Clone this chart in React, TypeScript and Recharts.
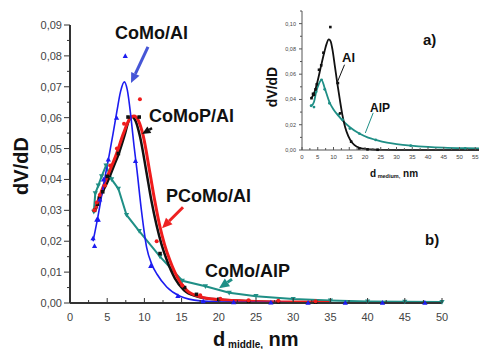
import { ComposedChart, Line, Scatter, XAxis, YAxis, ReferenceLine } from "recharts";

type Pair = [number, number];

// main chart (b): measured points
const comoAlPoints: Pair[] = [
  [3.1, 0.021], [3.3, 0.0185], [3.6, 0.027], [3.8, 0.027], [4.0, 0.0335], [4.5, 0.04],
  [5.15, 0.0465], [6.26, 0.06], [7.43, 0.08], [8.8, 0.046], [10.85, 0.012], [14.5, 0.0023],
  [17.9, 0.0006], [22, 0.0003], [27, 0.0002], [32, 0.0001], [37, 0.0001], [42, 0.0001], [47.7, 0.0001],
];
const pcomoAlPoints: Pair[] = [
  [3.27, 0.03], [3.6, 0.0325], [4.0, 0.035], [4.7, 0.038], [5.4, 0.0445], [6.3, 0.05], [7.26, 0.058],
  [9.4, 0.066], [11.65, 0.02], [15.1, 0.0057], [17.5, 0.0025], [20.2, 0.0014], [24, 0.0009], [28, 0.0007], [33, 0.0006],
];
const comopAlPoints: Pair[] = [
  [3.3, 0.03], [3.7, 0.032], [3.95, 0.034], [4.4, 0.036], [5.0, 0.041], [6.5, 0.0484], [7.8, 0.0602],
  [9.3, 0.0602], [12.1, 0.016], [15.4, 0.005], [17, 0.0028], [20, 0.0012], [24, 0.0006], [28, 0.0004], [33, 0.0003],
];
const comoAlpPoints: Pair[] = [
  [3.2, 0.0295], [3.4, 0.0355], [3.8, 0.038], [4.25, 0.041], [4.84, 0.0445], [5.6, 0.04], [6.5, 0.037],
  [7.6, 0.0285], [9.3, 0.0233], [12.1, 0.015], [15.1, 0.0072], [18.2, 0.0054], [21.4, 0.0033],
  [25, 0.0022], [30, 0.0013], [35, 0.0008], [40, 0.0005], [45, 0.0004], [50, 0.0003],
];

// main chart (b): fitted curves
const comoAlFit: Pair[] = [
  [3.1, 0.02], [3.6, 0.026], [4.2, 0.034], [4.8, 0.042], [5.2, 0.047], [5.8, 0.055], [6.3, 0.062],
  [6.8, 0.0685], [7.3, 0.0716], [7.7, 0.069], [8.2, 0.06], [8.6, 0.051], [9.0, 0.043], [9.6, 0.03],
  [10.3, 0.018], [11.0, 0.0125], [11.7, 0.0093], [13, 0.0052], [14.8, 0.0022], [17.5, 0.0007],
  [22, 0.0002], [30, 0.0001], [50, 0],
];
const pcomoAlFit: Pair[] = [
  [3.3, 0.0295], [4.2, 0.036], [5.2, 0.042], [6.2, 0.048], [7.2, 0.055], [8.0, 0.0595], [8.6, 0.0605],
  [9.2, 0.059], [9.85, 0.054], [10.75, 0.042], [11.4, 0.033], [12.1, 0.0246], [12.7, 0.019], [13.4, 0.014],
  [14.5, 0.008], [15.7, 0.0041], [17.5, 0.002], [20, 0.0011], [25, 0.0005], [30, 0.0003], [35, 0.0002],
];
const comopAlFit: Pair[] = [
  [3.5, 0.0305], [4.0, 0.034], [5.0, 0.039], [6.0, 0.045], [6.5, 0.048], [7.3, 0.054], [7.9, 0.059],
  [8.3, 0.0603], [8.8, 0.059], [9.4, 0.054], [10.3, 0.042], [10.95, 0.033], [11.65, 0.025], [12.3, 0.019],
  [13, 0.014], [14.1, 0.008], [15.3, 0.0042], [17, 0.0022], [20, 0.0011], [25, 0.0005], [30, 0.0002], [35, 0.0001],
];

// inset (a)
const alPoints: Pair[] = [
  [3.0, 0.041], [3.5, 0.0445], [3.8, 0.0437], [4.3, 0.048], [4.7, 0.052], [5.4, 0.0635], [6.1, 0.067],
  [6.8, 0.077], [9.0, 0.0973], [11.4, 0.053], [12.1, 0.029], [15.6, 0.0066], [18.2, 0.0013], [20.8, 0.0005], [24, 0.0002],
];
const alFit: Pair[] = [
  [3, 0.041], [4, 0.046], [5, 0.055], [6, 0.066], [7, 0.0765], [7.8, 0.084], [8.5, 0.0875], [9.1, 0.086],
  [9.7, 0.079], [10.4, 0.067], [11.2, 0.053], [12, 0.04], [12.8, 0.028], [13.7, 0.018], [14.7, 0.011],
  [16, 0.0055], [17.5, 0.0025], [19.5, 0.001], [22, 0.0004], [26, 0.0001], [30, 0], [60, 0],
];
const alpPoints: Pair[] = [
  [2.9, 0.035], [3.8, 0.034], [4.5, 0.046], [6.2, 0.0555], [7.2, 0.048], [8.7, 0.037], [11.6, 0.028],
  [12.9, 0.024], [15.2, 0.017], [18.2, 0.013], [23.4, 0.008], [34.5, 0.0034], [51.8, 0.0013],
];
const alpFit: Pair[] = [
  [3, 0.035], [3.8, 0.038], [4.5, 0.046], [5.3, 0.052], [6.2, 0.0555], [7.2, 0.049], [8.7, 0.038],
  [10, 0.032], [11.6, 0.027], [13, 0.023], [15.2, 0.018], [18.2, 0.013], [21, 0.0098], [23.4, 0.008],
  [27, 0.0058], [30, 0.0047], [34.5, 0.0035], [40, 0.0025], [45, 0.0019], [51.8, 0.0014], [60, 0.001],
];

// ticks
const mainXMajor = [0, 5, 10, 15, 20, 25, 30, 35, 40, 45, 50];
const mainXTicks = [0, 2.5, 5, 7.5, 10, 12.5, 15, 17.5, 20, 22.5, 25, 27.5, 30, 32.5, 35, 37.5, 40, 42.5, 45, 47.5, 50];
const mainYMajor = [0, 0.01, 0.02, 0.03, 0.04, 0.05, 0.06, 0.07, 0.08, 0.09];
const mainYTicks = [0, 0.005, 0.01, 0.015, 0.02, 0.025, 0.03, 0.035, 0.04, 0.045, 0.05, 0.055, 0.06, 0.065, 0.07, 0.075, 0.08, 0.085, 0.09];
const insetXMajor = [0, 5, 10, 15, 20, 25, 30, 35, 40, 45, 50, 55];
const insetXTicks = [0, 2.5, 5, 7.5, 10, 12.5, 15, 17.5, 20, 22.5, 25, 27.5, 30, 32.5, 35, 37.5, 40, 42.5, 45, 47.5, 50, 52.5, 55, 57.5, 60];
const insetYMajor = [0, 0.02, 0.04, 0.06, 0.08, 0.1];
const insetYTicks = [0, 0.01, 0.02, 0.03, 0.04, 0.05, 0.06, 0.07, 0.08, 0.09, 0.1, 0.11];

// annotation arrows in data units: [x1, y1, x2(tip), y2(tip)]
const mainArrows: { seg: [number, number, number, number]; color: string; w: number }[] = [
  { seg: [10.48, 0.0829, 8.2, 0.0712], color: "#4656d6", w: 3 },
  { seg: [11.02, 0.0566, 9.68, 0.0547], color: "#111", w: 2.5 },
  { seg: [15.19, 0.031, 12.37, 0.0242], color: "#ee2222", w: 3 },
  { seg: [21.77, 0.0077, 20.03, 0.0048], color: "#1f8f86", w: 3 },
];
const insetArrows: { seg: [number, number, number, number]; color: string; w: number }[] = [
  { seg: [13.5, 0.0675, 11.0, 0.0524], color: "#111", w: 1 },
  { seg: [22.6, 0.0294, 20.1, 0.0135], color: "#1f8f86", w: 1 },
];

const BLUE = "#1c1cf0";
const RED = "#f01c1c";
const BLACK = "#111111";
const TEAL = "#1f8f86";
const FONT = "'Liberation Sans', Arial, sans-serif";

const toXY = (p: Pair[]) => p.map(([x, y]) => ({ x, y }));
const fmt = (v: number, d: number) => v.toFixed(d).replace(".", ",");
const isIn = (arr: number[], v: number) => arr.some((m) => Math.abs(m - v) < 1e-9);

const makeXTick = (majors: number[], len: number, minorLen: number, fontSize: number, dy: number, color: string) =>
  (props: any) => {
    const { x, y, payload } = props;
    const major = isIn(majors, payload.value);
    return (
      <g>
        <line x1={x} x2={x} y1={y} y2={y - (major ? len : minorLen)} stroke={color} strokeWidth={1} />
        {major && (
          <text x={x} y={y + dy} textAnchor="middle" fontSize={fontSize} fill="#444" fontFamily={FONT}>
            {payload.value}
          </text>
        )}
      </g>
    );
  };

const makeYTick = (majors: number[], len: number, minorLen: number, fontSize: number, dx: number, color: string) =>
  (props: any) => {
    const { x, y, payload } = props;
    const major = isIn(majors, payload.value);
    return (
      <g>
        <line x1={x - (major ? len : minorLen)} x2={x} y1={y} y2={y} stroke={color} strokeWidth={1} />
        {major && (
          <text x={x - dx} y={y + fontSize * 0.36} textAnchor="end" fontSize={fontSize} fill="#444" fontFamily={FONT}>
            {fmt(payload.value, 2)}
          </text>
        )}
      </g>
    );
  };

const arrowShape = (color: string, w: number, head: number) => (props: any) => {
  const { x1, y1, x2, y2 } = props;
  const ang = Math.atan2(y2 - y1, x2 - x1);
  const bx = x2 - Math.cos(ang) * head;
  const by = y2 - Math.sin(ang) * head;
  const hw = head * 0.45;
  const px = -Math.sin(ang) * hw;
  const py = Math.cos(ang) * hw;
  return (
    <g>
      <line x1={x1} y1={y1} x2={head > 0 ? bx : x2} y2={head > 0 ? by : y2} stroke={color} strokeWidth={w} />
      {head > 0 && <polygon points={`${x2},${y2} ${bx + px},${by + py} ${bx - px},${by - py}`} fill={color} />}
    </g>
  );
};

const triUp = (color: string, s: number) => (props: any) => {
  const { cx, cy } = props;
  if (cx == null || cy == null) return <g />;
  return <polygon points={`${cx},${cy - s} ${cx - s},${cy + s * 0.8} ${cx + s},${cy + s * 0.8}`} fill={color} />;
};
const triDown = (color: string, s: number) => (props: any) => {
  const { cx, cy, index } = props;
  if (cx == null || cy == null) return <g key={index} />;
  return <polygon key={index} points={`${cx},${cy + s} ${cx - s},${cy - s * 0.8} ${cx + s},${cy - s * 0.8}`} fill={color} />;
};
const square = (color: string, s: number) => (props: any) => {
  const { cx, cy, index } = props;
  if (cx == null || cy == null) return <g key={index} />;
  return <rect key={index} x={cx - s} y={cy - s} width={2 * s} height={2 * s} fill={color} />;
};
const circle = (color: string, r: number) => (props: any) => {
  const { cx, cy, index } = props;
  if (cx == null || cy == null) return <g key={index} />;
  return <circle key={index} cx={cx} cy={cy} r={r} fill={color} />;
};

const MainChart = () => (
  <ComposedChart width={479} height={349} margin={{ top: 25, right: 37, bottom: 0, left: 0 }}>
    <XAxis
      type="number" dataKey="x" domain={[0, 50]} ticks={mainXTicks} interval={0} height={46}
      tickSize={0} tickMargin={0} tickLine={false} axisLine={{ stroke: "#333", strokeWidth: 2 }}
      tick={makeXTick(mainXMajor, 5, 3, 11, 18, "#333")}
    />
    <YAxis
      type="number" dataKey="y" domain={[0, 0.09]} ticks={mainYTicks} interval={0} width={70}
      tickSize={0} tickMargin={0} tickLine={false} axisLine={{ stroke: "#333", strokeWidth: 2 }}
      tick={makeYTick(mainYMajor, 6, 3, 11, 8, "#333")}
    />
    <Line data={toXY(comoAlpPoints)} dataKey="y" type="linear" stroke={TEAL} strokeWidth={2}
      dot={triDown(TEAL, 2.6)} activeDot={false} isAnimationActive={false} />
    <Line data={toXY(comopAlFit)} dataKey="y" type="monotone" stroke={BLACK} strokeWidth={2.5}
      dot={false} activeDot={false} isAnimationActive={false} />
    <Line data={toXY(pcomoAlFit)} dataKey="y" type="monotone" stroke={RED} strokeWidth={3}
      dot={false} activeDot={false} isAnimationActive={false} />
    <Line data={toXY(comoAlFit)} dataKey="y" type="monotone" stroke={BLUE} strokeWidth={1.6}
      dot={false} activeDot={false} isAnimationActive={false} />
    <Scatter data={toXY(comopAlPoints)} dataKey="y" shape={square(BLACK, 1.8)} isAnimationActive={false} />
    <Scatter data={toXY(pcomoAlPoints)} dataKey="y" shape={circle(RED, 2)} isAnimationActive={false} />
    <Scatter data={toXY(comoAlPoints)} dataKey="y" shape={triUp(BLUE, 2.6)} isAnimationActive={false} />
    {mainArrows.map((a, i) => (
      <ReferenceLine key={i} segment={[{ x: a.seg[0], y: a.seg[1] }, { x: a.seg[2], y: a.seg[3] }]}
        shape={arrowShape(a.color, a.w, a.w * 3.4)} />
    ))}
  </ComposedChart>
);

const InsetChart = () => (
  <ComposedChart width={251} height={185} margin={{ top: 11, right: 0, bottom: 0, left: 0 }}>
    <XAxis
      type="number" dataKey="x" domain={[0, 60]} ticks={insetXTicks} interval={0} height={35}
      tickSize={0} tickMargin={0} tickLine={false} axisLine={{ stroke: "#555", strokeWidth: 1 }}
      tick={makeXTick(insetXMajor, 3, 2, 6, 9, "#555")}
    />
    <YAxis
      type="number" dataKey="y" domain={[0, 0.11]} ticks={insetYTicks} interval={0} width={62}
      tickSize={0} tickMargin={0} tickLine={false} axisLine={{ stroke: "#555", strokeWidth: 1 }}
      tick={makeYTick(insetYMajor, 3, 2, 5.5, 6, "#555")}
    />
    <Line data={toXY(alpFit)} dataKey="y" type="monotone" stroke={TEAL} strokeWidth={1.8}
      dot={false} activeDot={false} isAnimationActive={false} />
    <Line data={toXY(alFit)} dataKey="y" type="monotone" stroke={BLACK} strokeWidth={1.8}
      dot={false} activeDot={false} isAnimationActive={false} />
    <Scatter data={toXY(alpPoints)} dataKey="y" shape={circle(TEAL, 1.4)} isAnimationActive={false} />
    <Scatter data={toXY(alPoints)} dataKey="y" shape={square(BLACK, 1.3)} isAnimationActive={false} />
    {insetArrows.map((a, i) => (
      <ReferenceLine key={i} segment={[{ x: a.seg[0], y: a.seg[1] }, { x: a.seg[2], y: a.seg[3] }]}
        shape={arrowShape(a.color, a.w, 0)} />
    ))}
  </ComposedChart>
);

const Labels = () => (
  <svg width={479} height={349} style={{ position: "absolute", left: 0, top: 0, pointerEvents: "none" }}
    fontFamily={FONT} fontWeight="bold" fill="#111">
    <text x={115} y={39} fontSize={18}>CoMo/Al</text>
    <text x={149} y={122} fontSize={18}>CoMoP/Al</text>
    <text x={166} y={202} fontSize={18}>PCoMo/Al</text>
    <text x={205} y={277} fontSize={18}>CoMo/AlP</text>
    <text x={423} y={45} fontSize={15}>a)</text>
    <text x={425} y={245} fontSize={15}>b)</text>
    <text x={342} y={62} fontSize={13}>Al</text>
    <text x={370} y={112} fontSize={12}>AlP</text>
    <text x={28} y={166} fontSize={20} textAnchor="middle" transform="rotate(-90 28 166)">dV/dD</text>
    <text x={277} y={87} fontSize={14} textAnchor="middle" transform="rotate(-90 277 87)">dV/dD</text>
    <text x={213} y={346} fontSize={20}>
      d<tspan fontSize={10} dy={2}> middle,</tspan><tspan fontSize={20} dy={-2}> nm</tspan>
    </text>
    <text x={370} y={177} fontSize={10}>
      d<tspan fontSize={5.5} dy={1}> medium,</tspan><tspan fontSize={10} dy={-1}> nm</tspan>
    </text>
  </svg>
);

export default function App() {
  return (
    <div style={{ position: "fixed", left: 0, top: 0, width: 479, height: 349, overflow: "hidden", background: "#fff" }}>
      <div style={{ position: "absolute", left: 0, top: 0 }}>
        <MainChart />
      </div>
      <div style={{ position: "absolute", left: 240, top: 0 }}>
        <InsetChart />
      </div>
      <Labels />
    </div>
  );
}
